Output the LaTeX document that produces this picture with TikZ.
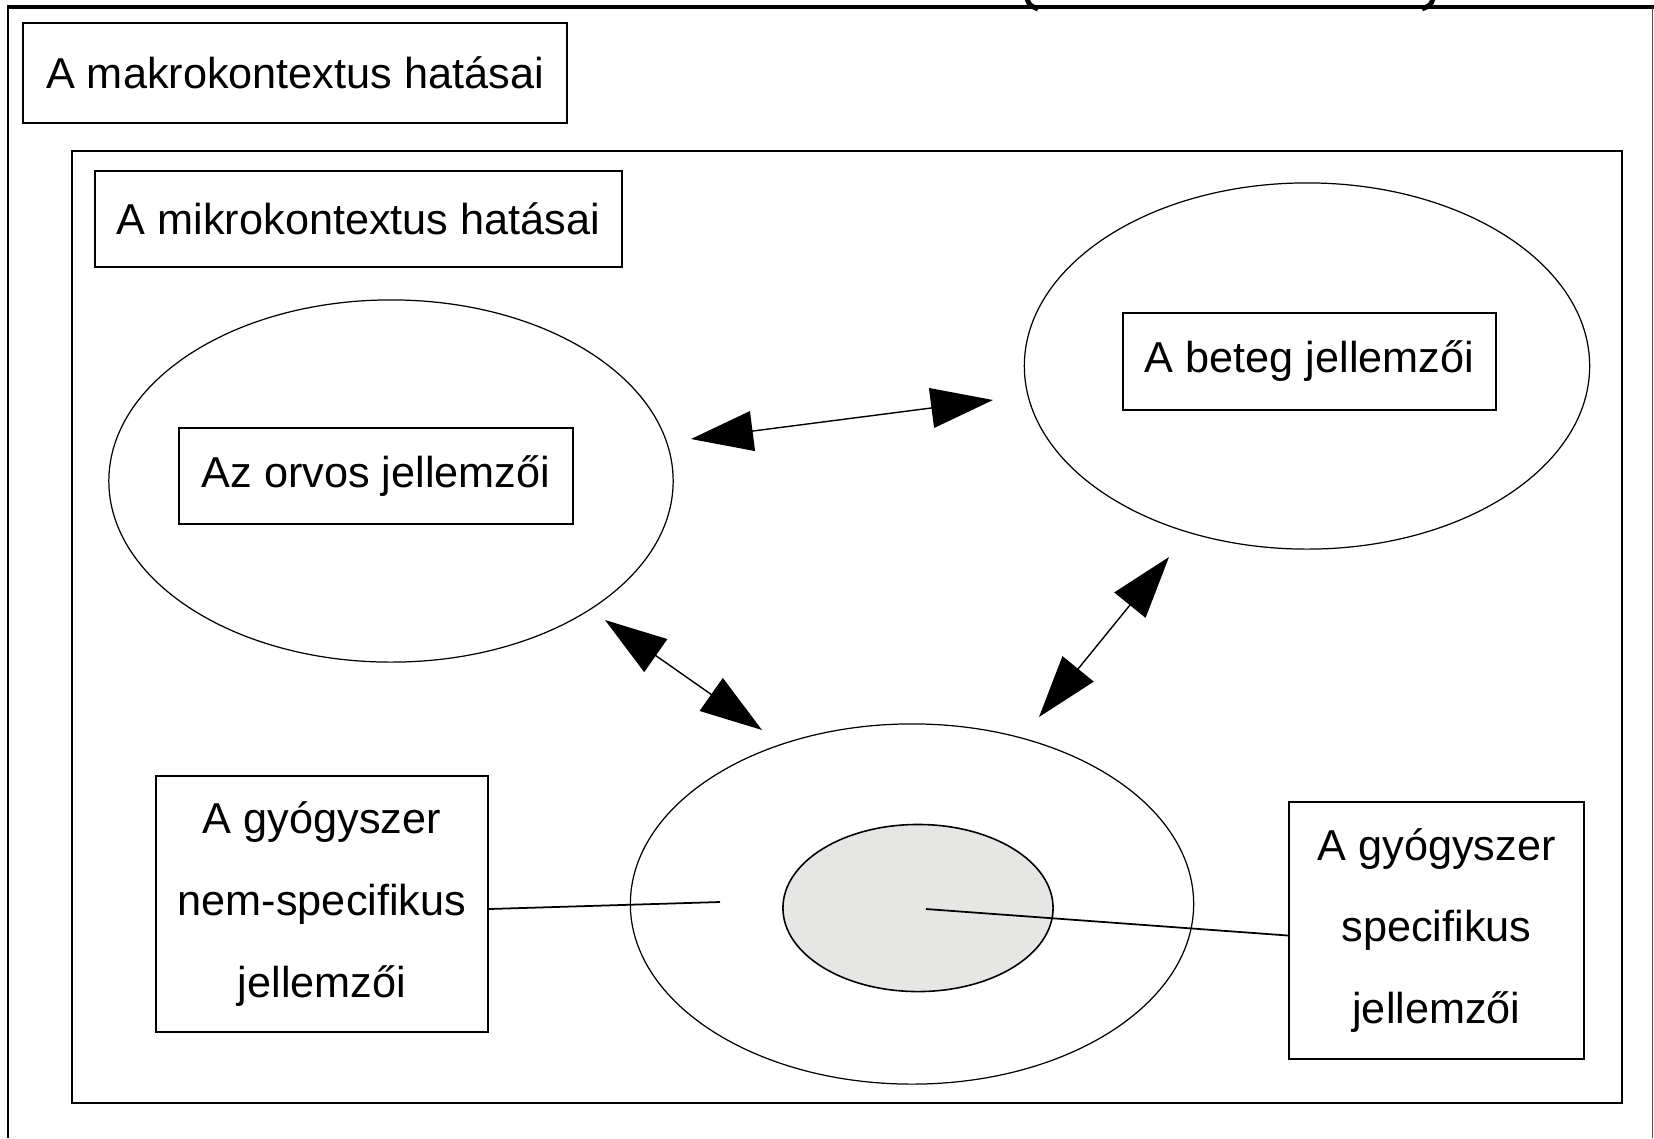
\documentclass[tikz,border=0pt]{standalone}
\usepackage{fontspec}
\setmainfont{Liberation Sans}
\usetikzlibrary{shapes.geometric,arrows.meta,calc}
\begin{document}
\begin{tikzpicture}[x=0.01cm,y=-0.01cm,
  box/.style={draw,line width=0.55pt,inner sep=0pt,align=center,
    font={\fontsize{12.3}{23.3}\selectfont}},
  oval/.style={draw,ellipse,line width=0.35pt,inner sep=0pt},
  dbl/.style={line width=0.4pt,{Triangle[length=6.2mm,width=4mm]}-{Triangle[length=6.2mm,width=4mm]}},
  link/.style={line width=0.5pt},
  frame/.style={line width=0.6pt}]
\useasboundingbox (0,0) rectangle (1654,1138);
\fill[white] (0,0) rectangle (1654,1138);
% outer frame (continues below the page)
\draw[line width=0.7pt] (8,1138) -- (8,7);
\draw[line width=0.9pt] (7,7) -- (1654,7);
\draw[line width=0.35pt,black!70] (1652.5,7) -- (1652.5,1138);
% parenthesis ends above the frame
\draw[line width=1.4pt] (1027,-2) .. controls (1029,5) .. (1038,9);
\draw[line width=1.4pt] (1433,-2) .. controls (1431,5) .. (1422,9);
\node[box,minimum width=5.44cm,minimum height=1cm] (makro) at (295,73) {A makrokontextus hatásai};
% inner frame
\draw[frame] (72,151) rectangle (1622,1103);
\node[box,minimum width=5.27cm,minimum height=0.96cm] (mikro) at (358.5,219) {A mikrokontextus hatásai};
% ellipses
\node[oval,minimum width=5.64cm,minimum height=3.62cm] (orvosE) at (391,481) {};
\node[oval,minimum width=5.65cm,minimum height=3.66cm] (betegE) at (1307,366) {};
\node[oval,minimum width=5.63cm,minimum height=3.60cm] (gyE) at (912,904) {};
\node[oval,fill={rgb,255:red,230;green,230;blue,228},line width=0.45pt,minimum width=2.70cm,minimum height=1.67cm] (belsoE) at (918,908) {};
% boxes
\node[box,minimum width=3.94cm,minimum height=0.96cm] (orvos) at (376,476) {Az orvos jellemzői};
\node[box,minimum width=3.73cm,minimum height=0.97cm] (beteg) at (1309.5,361.5) {A beteg jellemzői};
\node[box,minimum width=3.32cm,minimum height=2.56cm] (nem) at (322,904) {A gyógyszer\\nem-specifikus\\jellemzői};
\node[box,minimum width=2.95cm,minimum height=2.57cm] (spec) at (1436.5,930.5) {A gyógyszer\\specifikus\\jellemzői};
% arrow ends
\coordinate (a1) at (691,439);
\coordinate (b1) at (993,400);
\coordinate (a2) at (605,620);
\coordinate (b2) at (762,730);
\coordinate (a3) at (1169,557);
\coordinate (b3) at (1039,717);
\draw[dbl] (a1) -- (b1);
\draw[dbl] (a2) -- (b2);
\draw[dbl] (a3) -- (b3);
% lines
\coordinate (n1) at (720,902);
\coordinate (s1) at (926,909);
\draw[link] ($(nem.east)+(0,5)$) -- (n1);
\draw[link] (s1) -- ($(spec.west)+(0,5)$);
\end{tikzpicture}
\end{document}
